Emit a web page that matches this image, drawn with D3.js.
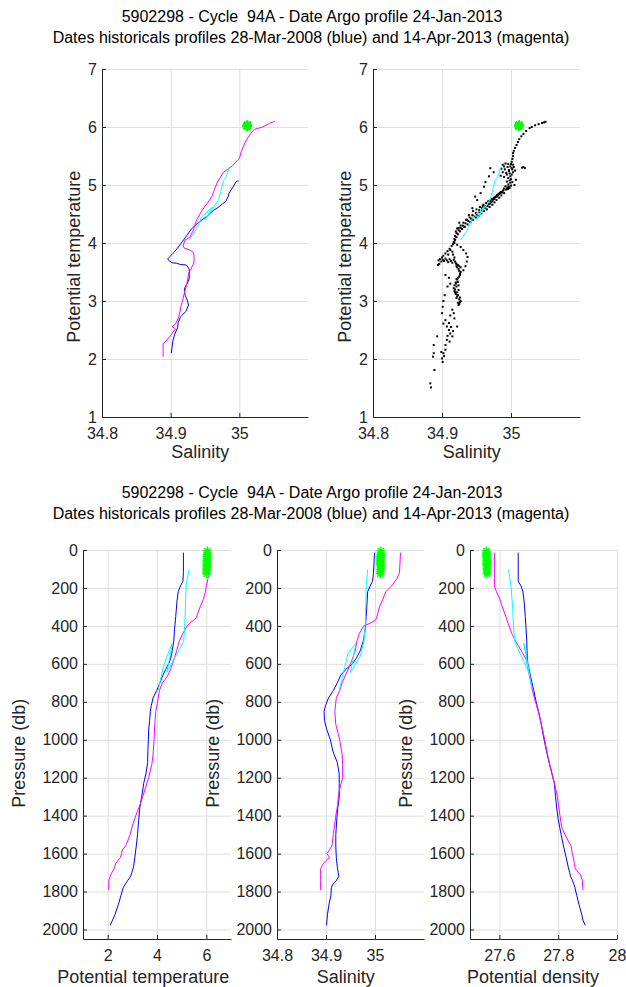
<!DOCTYPE html>
<html><head><meta charset="utf-8">
<script src="https://cdn.jsdelivr.net/npm/d3@7"></script>
<style>
body{margin:0;background:#fff}
text{font-family:"Liberation Sans",Arial,Helvetica,sans-serif;fill:#262626;white-space:pre}
</style></head>
<body><svg id="c" width="626" height="987" xmlns="http://www.w3.org/2000/svg"></svg>
<script>
// ---------- text ----------
const titleLine1 = "5902298 - Cycle  94A - Date Argo profile 24-Jan-2013";
const titleLine2 = "Dates historicals profiles 28-Mar-2008 (blue) and 14-Apr-2013 (magenta)";

// ---------- ticks ----------
const thetaTicks = [1,2,3,4,5,6,7];
const salTicks = [34.8,34.9,35];
const tempTicks = [2,4,6];
const densTicks = [27.6,27.8,28];
const presTicks = [0,200,400,600,800,1000,1200,1400,1600,1800,2000];

// ---------- blue profile (28-Mar-2008) ----------
const blueP = [14,120,165,190,220,270,350,420,480,530,570,600,630,660,700,740,780,820,850,900,950,1000,1060,1120,1180,1230,1300,1360,1420,1500,1560,1620,1670,1700,1720,1740,1760,1780,1820,1870,1920,1950,1978];
const blueT = [5.07,5.07,5.05,4.95,4.86,4.81,4.76,4.71,4.68,4.62,4.56,4.47,4.35,4.24,4.12,3.99,3.84,3.77,3.73,3.70,3.66,3.65,3.63,3.62,3.55,3.46,3.38,3.30,3.26,3.21,3.16,3.10,3.05,2.98,2.93,2.82,2.72,2.63,2.54,2.43,2.30,2.20,2.10];
const blueS = [34.999,34.997,34.995,34.990,34.985,34.984,34.982,34.980,34.976,34.970,34.962,34.954,34.940,34.930,34.923,34.915,34.905,34.899,34.896,34.897,34.902,34.909,34.914,34.923,34.927,34.927,34.927,34.924,34.922,34.920,34.920,34.921,34.923,34.925,34.926,34.922,34.914,34.911,34.910,34.906,34.903,34.902,34.901];
const blueD = [27.664,27.664,27.664,27.674,27.680,27.684,27.688,27.691,27.693,27.694,27.695,27.697,27.701,27.705,27.711,27.717,27.722,27.728,27.733,27.740,27.746,27.752,27.760,27.769,27.779,27.787,27.791,27.795,27.800,27.810,27.818,27.827,27.834,27.839,27.842,27.848,27.853,27.857,27.863,27.871,27.880,27.884,27.892];

// ---------- magenta profile (14-Apr-2013) ----------
const magP = [14,120,150,190,220,260,300,360,372,386,400,440,480,530,580,630,670,700,740,780,850,920,1000,1080,1130,1200,1280,1340,1400,1460,1500,1560,1580,1600,1620,1650,1680,1710,1740,1792];
const magT = [6.10,6.09,6.07,6.00,5.96,5.88,5.75,5.58,5.46,5.33,5.22,5.05,4.90,4.80,4.68,4.55,4.40,4.22,4.10,4.05,3.95,3.91,3.88,3.84,3.79,3.66,3.47,3.32,3.14,2.99,2.91,2.73,2.60,2.56,2.52,2.33,2.26,2.13,2.05,2.04];
const magS = [35.052,35.050,35.045,35.034,35.022,35.016,35.009,35.003,35.000,34.990,34.977,34.968,34.963,34.960,34.953,34.945,34.938,34.933,34.928,34.921,34.918,34.920,34.928,34.933,34.934,34.934,34.926,34.924,34.920,34.917,34.915,34.912,34.907,34.902,34.907,34.895,34.889,34.889,34.889,34.889];
const magD = [27.583,27.583,27.583,27.583,27.590,27.602,27.610,27.624,27.626,27.630,27.633,27.642,27.655,27.674,27.692,27.698,27.703,27.707,27.712,27.719,27.732,27.743,27.754,27.764,27.771,27.782,27.795,27.801,27.806,27.812,27.823,27.844,27.846,27.848,27.851,27.855,27.858,27.875,27.882,27.884];

// ---------- cyan profile ----------
const cyanP = [102,185,300,404,483,560,645,492,545,620,738];
const cyanT = [5.30,5.18,5.15,5.12,5.08,4.75,4.40,4.62,4.45,4.25,4.05];
const cyanS = [34.985,34.982,34.981,34.980,34.977,34.970,34.950,34.961,34.945,34.938,34.927];
const cyanD = [27.631,27.639,27.645,27.648,27.652,27.675,27.700,27.683,27.690,27.698,27.712];

// ---------- Argo profile (green stars) ----------
const argoP = [5,15,25,35,45,55,65,75,85,95,105,115,125];
const argoT = [6.04,6.04,6.03,6.03,6.03,6.02,6.02,6.02,6.02,6.01,6.01,6.01,6.01];
const argoS = [35.012,35.012,35.012,35.011,35.011,35.011,35.011,35.011,35.012,35.012,35.011,35.011,35.011];
const argoD = [27.556,27.556,27.556,27.556,27.557,27.557,27.557,27.557,27.557,27.557,27.558,27.558,27.558];

// ---------- historical theta-S points (black dots) [S, theta] ----------
const histTS = [
[35.050,6.09],[35.048,6.08],[35.045,6.07],[35.040,6.05],[35.035,6.03],[35.030,6.00],[35.027,5.98],[35.022,5.93],[35.018,5.88],[35.015,5.84],[35.012,5.79],[35.010,5.74],[35.008,5.69],[35.006,5.64],[35.004,5.59],[35.003,5.55],[35.003,5.50],[35.002,5.45],[35.001,5.40],
[34.988,5.35],[34.992,5.37],[34.996,5.36],[35.000,5.36],[35.003,5.35],[34.990,5.32],[34.995,5.31],[34.999,5.32],[35.004,5.31],[35.016,5.30],[35.018,5.31],[35.020,5.29],[34.986,5.28],[34.991,5.27],[34.997,5.26],[35.002,5.27],[35.006,5.25],[34.988,5.22],[34.993,5.21],[34.998,5.20],[35.001,5.18],[34.985,5.16],[34.990,5.14],[34.996,5.12],[35.000,5.10],[34.998,5.08],[34.994,5.06],[34.999,5.04],[34.996,5.01],[35.002,5.05],[35.005,5.00],[35.007,5.09],
[34.999,5.15],[34.997,5.24],[35.001,5.29],[34.994,5.18],[35.003,5.22],
[34.992,4.98],[34.995,4.96],[34.990,4.94],[34.993,4.92],[34.988,4.90],[34.985,4.88],[34.990,4.86],[34.983,4.84],[34.986,4.82],[34.980,4.80],[34.983,4.78],[34.976,4.76],[34.979,4.74],[34.973,4.72],[34.976,4.70],[34.970,4.68],[34.973,4.66],[34.966,4.64],[34.969,4.62],[34.962,4.60],[34.965,4.58],[34.958,4.56],[34.961,4.55],[34.954,4.53],[34.957,4.51],[34.950,4.49],[34.953,4.47],[34.946,4.46],[34.949,4.44],[34.942,4.42],[34.945,4.40],[34.938,4.38],[34.941,4.36],[34.934,4.34],[34.937,4.32],[34.930,4.30],[34.933,4.28],[34.927,4.26],[34.929,4.24],[34.924,4.22],[34.926,4.20],[34.921,4.17],[34.923,4.15],[34.919,4.12],[34.921,4.10],[34.918,4.07],[34.919,4.05],[34.917,4.02],[34.918,4.00],[34.916,3.98],
[34.998,4.95],[34.982,4.85],[34.978,4.80],[34.972,4.76],[34.967,4.72],[34.960,4.66],[34.955,4.62],[34.950,4.58],[34.945,4.55],[35.000,4.99],[34.996,4.93],[34.987,4.87],[34.981,4.82],[34.975,4.78],[34.970,4.73],[34.964,4.69],[34.959,4.64],
[34.997,4.97],[34.994,4.94],[34.989,4.91],[34.984,4.86],[34.980,4.83],[34.977,4.79],[34.974,4.75],[34.971,4.71],[34.968,4.67],[34.963,4.63],[34.958,4.60],[34.954,4.57],[34.949,4.52],[34.944,4.48],[34.940,4.44],[34.936,4.40],[34.931,4.35],[34.927,4.30],[34.924,4.26],[34.920,4.20],
[34.970,5.29],[34.975,5.22],[34.968,5.15],[34.961,4.97],[34.956,4.86],[34.951,4.74],[34.944,4.60],[34.939,4.48],[34.935,4.40],[34.932,4.28],[34.925,4.35],[34.922,4.25],[34.963,5.05],[34.948,4.80],
[34.895,3.70],[34.897,3.72],[34.899,3.68],[34.901,3.71],[34.903,3.69],[34.905,3.73],[34.907,3.70],[34.909,3.67],[34.911,3.72],[34.913,3.69],[34.915,3.66],[34.917,3.71],[34.919,3.68],[34.921,3.64],[34.923,3.62],[34.925,3.60],[34.927,3.58],[34.894,3.62],[34.896,3.64],
[34.914,3.95],[34.911,3.90],[34.908,3.86],[34.905,3.82],[34.902,3.78],[34.900,3.75],[34.912,3.88],[34.909,3.80],
[34.922,3.97],[34.927,3.93],[34.931,3.88],[34.935,3.82],[34.937,3.76],[34.936,3.68],[34.934,3.60],[34.931,3.53],
[34.915,3.85],[34.916,3.80],[34.918,3.75],[34.920,3.65],[34.922,3.58],[34.925,3.52],[34.926,3.47],[34.925,3.42],[34.922,3.37],[34.920,3.32],[34.918,3.27],[34.917,3.22],[34.918,3.17],[34.920,3.12],[34.922,3.08],[34.925,3.03],[34.926,2.98],[34.924,2.93],[34.921,3.25],[34.919,3.20],[34.923,3.10],[34.927,3.00],[34.925,2.95],[34.922,3.15],[34.920,3.30],[34.923,3.40],[34.927,3.50],[34.926,3.06],[34.924,3.19],
[34.923,3.33],[34.921,3.38],[34.926,3.45],[34.924,3.55],[34.921,3.60],[34.919,3.15],[34.921,3.05],[34.923,2.97],[34.924,3.27],
[34.905,3.45],[34.910,3.40],[34.912,3.30],[34.908,3.25],[34.904,3.10],[34.902,3.00],[34.901,2.90],
[34.900,2.79],[34.905,2.67],[34.902,2.61],[34.907,2.56],[34.910,2.50],[34.912,2.44],[34.915,2.39],[34.907,2.33],[34.905,2.24],[34.905,2.16],[34.902,2.10],[34.900,2.01],[34.901,1.95],[34.888,2.24],[34.888,2.10],[34.887,2.04],[34.893,2.39],[34.889,1.81],[34.883,1.58],[34.884,1.51],[34.917,2.79],[34.922,2.56],[34.915,2.85],[34.912,2.75],[34.918,2.70],[34.910,2.62],[34.913,2.55],[34.916,2.48],[34.903,2.05],[34.899,2.12],[34.908,2.40],[34.911,2.30]
];

// ---------- drawing ----------
const svg = d3.select("#c");
const AX = "#262626", GRID = "#dfdfdf";
const BLUE = "#0000ff", MAG = "#ff00ff", CYAN = "#00ffff", GREEN = "#00ff00";

function panel(o) {
  const g = svg.append("g");
  const x = d3.scaleLinear().domain(o.xdom).range([o.x0, o.x1]);
  const y = d3.scaleLinear().domain(o.ydom).range(o.rev ? [o.y0, o.y1] : [o.y1, o.y0]);
  g.append("g").attr("transform", `translate(0,${o.y1})`)
    .call(d3.axisBottom(x).tickValues(o.xticks).tickSize(-(o.y1 - o.y0)).tickFormat(""))
    .call(s => { s.select(".domain").remove(); s.selectAll("line").attr("stroke", GRID); });
  g.append("g").attr("transform", `translate(${o.x0},0)`)
    .call(d3.axisLeft(y).tickValues(o.yticks).tickSize(-(o.x1 - o.x0)).tickFormat(""))
    .call(s => { s.select(".domain").remove(); s.selectAll("line").attr("stroke", GRID); });
  const plot = g.append("g");
  const ax = g.append("g").attr("transform", `translate(0,${o.y1})`)
    .call(d3.axisBottom(x).tickValues(o.xticks).tickSizeInner(-4).tickSizeOuter(0).tickPadding(10.5).tickFormat(d => String(d)));
  const ay = g.append("g").attr("transform", `translate(${o.x0},0)`)
    .call(d3.axisLeft(y).tickValues(o.yticks).tickSizeInner(-4).tickSizeOuter(0).tickPadding(5).tickFormat(d => String(d)));
  [ax, ay].forEach(a => {
    a.select(".domain").attr("stroke", AX).attr("stroke-width", 1);
    a.selectAll(".tick line").attr("stroke", AX);
    a.selectAll("text").attr("fill", AX).style("font-size", "16px").style("font-family", '"Liberation Sans",Arial,sans-serif');
  });
  const cx = (o.x0 + o.x1) / 2, cy = (o.y0 + o.y1) / 2;
  const xl = g.append("text").attr("x", cx).attr("y", o.y1 + o.xlOff).attr("text-anchor", "middle")
    .style("font-size", "18px").text(o.xlabel);
  const wx = xl.node().getComputedTextLength();
  xl.attr("x", cx - 0.08 * wx);
  const yl = g.append("text").attr("text-anchor", "middle")
    .attr("transform", `translate(${o.x0 - o.ylOff},${cy}) rotate(-90)`)
    .style("font-size", "18px").text(o.ylabel);
  const wy = yl.node().getComputedTextLength();
  yl.attr("transform", `translate(${o.x0 - o.ylOff},${cy + 0.08 * wy}) rotate(-90)`);
  return {x, y, plot};
}

function line(p, xs, ys, color) {
  const pts = xs.map((v, i) => [v, ys[i]]);
  p.plot.append("path").datum(pts)
    .attr("d", d3.line().x(d => p.x(d[0])).y(d => p.y(d[1])))
    .attr("fill", "none").attr("stroke", color).attr("stroke-width", 1).attr("stroke-linejoin", "round");
}
function stars(p, xs, ys) {
  const r = 4.4, q = 3.1;
  const star = `M${-r},0H${r}M0,${-r}V${r}M${-q},${-q}L${q},${q}M${-q},${q}L${q},${-q}`;
  p.plot.selectAll(null).data(xs.map((v, i) => [v, ys[i]])).enter().append("path")
    .attr("transform", d => `translate(${p.x(d[0])},${p.y(d[1])})`)
    .attr("d", star).attr("fill", "none").attr("stroke", GREEN).attr("stroke-width", 1.3);
}

function titles(y1, y2) {
  svg.append("text").attr("x", 312).attr("y", y1).attr("text-anchor", "middle").style("font-size", "16px").style("fill", "#000").text(titleLine1);
  svg.append("text").attr("x", 311).attr("y", y2).attr("text-anchor", "middle").style("font-size", "16px").style("fill", "#000").text(titleLine2);
}
titles(22, 43);
titles(498, 519);

const tl = panel({x0:102, x1:308, y0:69, y1:417, xdom:[34.8,35.1], ydom:[1,7], xticks:salTicks, yticks:thetaTicks,
  xlabel:"Salinity", ylabel:"Potential temperature", xlOff:41, ylOff:22});
line(tl, blueS, blueT, BLUE);
line(tl, magS, magT, MAG);
line(tl, cyanS, cyanT, CYAN);
stars(tl, argoS, argoT);

const tr = panel({x0:373, x1:580, y0:69, y1:417, xdom:[34.8,35.1], ydom:[1,7], xticks:salTicks, yticks:thetaTicks,
  xlabel:"Salinity", ylabel:"Potential temperature", xlOff:41, ylOff:22});
tr.plot.selectAll(null).data(histTS).enter().append("rect")
  .attr("x", d => tr.x(d[0]) - 1).attr("y", d => tr.y(d[1]) - 1).attr("width", 2).attr("height", 2).attr("fill", "#000");
line(tr, cyanS, cyanT, CYAN);
stars(tr, argoS, argoT);

const bl = panel({x0:83, x1:231, y0:550, y1:939, xdom:[1,7], ydom:[0,2050], rev:true, xticks:tempTicks, yticks:presTicks,
  xlabel:"Potential temperature", ylabel:"Pressure (db)", xlOff:44, ylOff:58});
line(bl, blueT, blueP, BLUE);
line(bl, magT, magP, MAG);
line(bl, cyanT, cyanP, CYAN);
stars(bl, argoT, argoP);

const bm = panel({x0:277, x1:424, y0:550, y1:939, xdom:[34.8,35.1], ydom:[0,2050], rev:true, xticks:salTicks, yticks:presTicks,
  xlabel:"Salinity", ylabel:"Pressure (db)", xlOff:44, ylOff:58});
line(bm, blueS, blueP, BLUE);
line(bm, magS, magP, MAG);
line(bm, cyanS, cyanP, CYAN);
stars(bm, argoS, argoP);

const br = panel({x0:470, x1:617, y0:550, y1:939, xdom:[27.5,28], ydom:[0,2050], rev:true, xticks:densTicks, yticks:presTicks,
  xlabel:"Potential density", ylabel:"Pressure (db)", xlOff:44, ylOff:58});
line(br, blueD, blueP, BLUE);
line(br, magD, magP, MAG);
line(br, cyanD, cyanP, CYAN);
stars(br, argoD, argoP);
</script>
</body></html>
